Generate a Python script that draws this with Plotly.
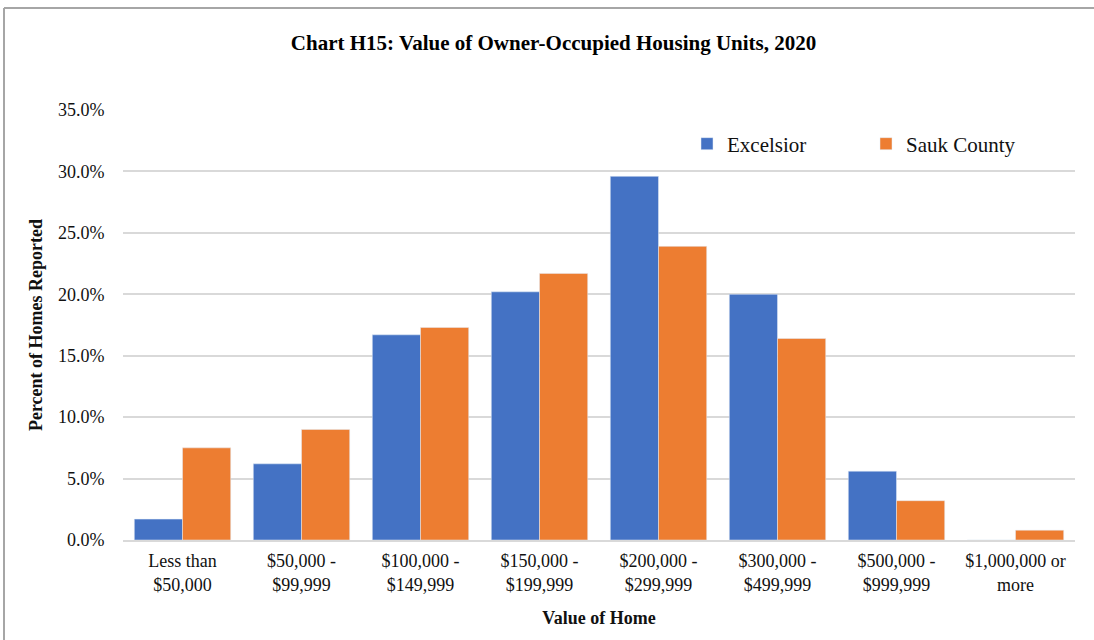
import plotly.graph_objects as go

# Data
categories = [
    "Less than<br>$50,000",
    "$50,000 -<br>$99,999",
    "$100,000 -<br>$149,999",
    "$150,000 -<br>$199,999",
    "$200,000 -<br>$299,999",
    "$300,000 -<br>$499,999",
    "$500,000 -<br>$999,999",
    "$1,000,000 or<br>more",
]
excelsior = [1.7, 6.2, 16.7, 20.2, 29.6, 20.0, 5.6, 0.0]
sauk_county = [7.5, 9.0, 17.3, 21.7, 23.9, 16.4, 3.2, 0.8]
y_ticks = [0, 5, 10, 15, 20, 25, 30, 35]

serif = "Liberation Serif, Times New Roman, serif"

# plot area in pixels: x 123..1075, y 110..540
PL, PR, PT, PB = 123, 1075, 110, 540


def px_x(v):
    return (v - PL) / (PR - PL)


def px_y(v):
    return (PB - v) / (PB - PT)


fig = go.Figure()
fig.add_bar(x=categories, y=excelsior, name="Excelsior", marker_color="#4472C4")
fig.add_bar(x=categories, y=sauk_county, name="Sauk County", marker_color="#ED7D31")

fig.update_layout(
    width=1094,
    height=640,
    paper_bgcolor="white",
    plot_bgcolor="white",
    margin=dict(l=PL, r=1094 - PR, t=PT, b=640 - PB, autoexpand=False),
    barmode="group",
    bargap=0.19,
    bargroupgap=0,
    font=dict(family=serif, size=18, color="#111"),
    title=dict(
        text="<b>Chart H15: Value of Owner-Occupied Housing Units, 2020</b>",
        x=0.506, xanchor="center", y=0.933, yanchor="middle",
        font=dict(family=serif, size=21, color="#000"),
    ),
    legend=dict(
        orientation="h",
        x=px_x(687), xanchor="left",
        y=px_y(144), yanchor="middle",
        entrywidth=134,
        font=dict(family=serif, size=21, color="#111"),
    ),
    showlegend=True,
)

fig.update_yaxes(
    range=[0, 35],
    tickvals=y_ticks,
    ticktext=[f"{v:.1f}%" for v in y_ticks],
    showgrid=True,
    gridcolor="#d9d9d9",
    gridwidth=1.5,
    zeroline=False,
    showline=False,
    ticks="outside", ticklen=14, tickcolor="white",
    tickfont=dict(size=18),
    title=dict(text="<b>Percent of Homes Reported</b>", font=dict(size=18), standoff=10),
)

fig.update_xaxes(
    showline=True,
    linecolor="#d9d9d9",
    linewidth=1.5,
    tickfont=dict(size=18),
    ticks="outside", ticklen=4, tickcolor="white",
    title=dict(text="<b>Value of Home</b>", font=dict(size=18), standoff=18),
)

# outer chart frame (top and left edges visible in the reference)
fig.add_shape(
    type="line", xref="paper", yref="paper",
    x0=px_x(4), x1=px_x(1094), y0=px_y(8), y1=px_y(8),
    line=dict(color="#a6a6a6", width=2),
)
fig.add_shape(
    type="line", xref="paper", yref="paper",
    x0=px_x(4), x1=px_x(4), y0=px_y(8), y1=px_y(640),
    line=dict(color="#a6a6a6", width=2),
)

fig.write_html(
    "out.html",
    config={"displayModeBar": False},
    post_script="document.body.style.margin='0';",
)
